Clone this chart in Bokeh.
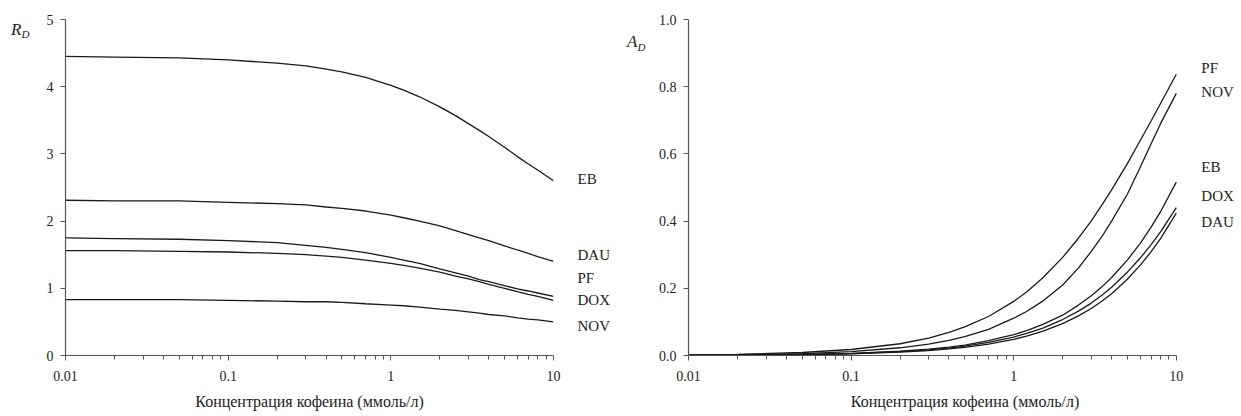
from bokeh.plotting import figure
from bokeh.layouts import row
from bokeh.models import (FixedTicker, CustomJSTickFormatter, LinearAxis, Range1d,
                          ColumnDataSource)
from bokeh.core.properties import value
from bokeh.embed import file_html
from bokeh.resources import INLINE

# caffeine concentration, mmol/l
conc = [0.01, 0.02, 0.05, 0.1, 0.2, 0.3, 0.4, 0.5, 0.7, 1, 1.2, 1.5, 2, 2.5, 3, 3.5, 4, 5, 6, 7, 8, 10]

# R_D for each ligand
rd_eb = [4.45, 4.44, 4.43, 4.40, 4.35, 4.31, 4.26, 4.22, 4.14, 4.02, 3.95, 3.85, 3.70, 3.57, 3.45, 3.35, 3.26, 3.10, 2.96, 2.85, 2.76, 2.60]
rd_dau = [2.31, 2.30, 2.30, 2.28, 2.26, 2.24, 2.21, 2.19, 2.15, 2.09, 2.05, 2.00, 1.93, 1.86, 1.80, 1.75, 1.71, 1.63, 1.57, 1.52, 1.47, 1.40]
rd_pf = [1.75, 1.74, 1.73, 1.71, 1.68, 1.64, 1.61, 1.58, 1.53, 1.46, 1.42, 1.37, 1.29, 1.23, 1.18, 1.13, 1.10, 1.04, 0.99, 0.96, 0.93, 0.88]
rd_dox = [1.56, 1.56, 1.55, 1.54, 1.52, 1.50, 1.48, 1.46, 1.42, 1.37, 1.34, 1.30, 1.24, 1.18, 1.14, 1.10, 1.06, 1.00, 0.95, 0.91, 0.88, 0.82]
rd_nov = [0.83, 0.83, 0.83, 0.82, 0.81, 0.80, 0.80, 0.79, 0.77, 0.75, 0.74, 0.72, 0.69, 0.67, 0.65, 0.63, 0.61, 0.59, 0.56, 0.54, 0.53, 0.50]

# A_D for each ligand
ad_pf = [0.0018, 0.0036, 0.0089, 0.0178, 0.035, 0.052, 0.069, 0.085, 0.116, 0.161, 0.189, 0.230, 0.292, 0.349, 0.401, 0.449, 0.493, 0.571, 0.640, 0.698, 0.750, 0.837]
ad_nov = [0.0012, 0.0023, 0.0057, 0.0115, 0.023, 0.034, 0.045, 0.056, 0.078, 0.111, 0.131, 0.161, 0.21, 0.26, 0.31, 0.355, 0.40, 0.48, 0.56, 0.63, 0.69, 0.78]
ad_eb = [0.0006, 0.0013, 0.0032, 0.0063, 0.0126, 0.019, 0.025, 0.031, 0.044, 0.062, 0.074, 0.092, 0.12, 0.150, 0.178, 0.205, 0.232, 0.284, 0.334, 0.382, 0.428, 0.516]
ad_dox = [0.0006, 0.0011, 0.0028, 0.0056, 0.0113, 0.017, 0.022, 0.028, 0.039, 0.055, 0.066, 0.081, 0.107, 0.132, 0.156, 0.180, 0.203, 0.248, 0.290, 0.330, 0.368, 0.44]
ad_dau = [0.0005, 0.001, 0.0024, 0.0049, 0.0098, 0.0146, 0.0195, 0.024, 0.034, 0.048, 0.058, 0.072, 0.095, 0.118, 0.140, 0.162, 0.184, 0.227, 0.269, 0.309, 0.348, 0.424]

left_names = ["EB", "DAU", "PF", "DOX", "NOV"]
left_series = [rd_eb, rd_dau, rd_pf, rd_dox, rd_nov]
left_label_y = [2.62, 1.49, 1.16, 0.82, 0.44]

right_names = ["PF", "NOV", "EB", "DOX", "DAU"]
right_series = [ad_pf, ad_nov, ad_eb, ad_dox, ad_dau]
right_label_y = [0.857, 0.785, 0.56, 0.475, 0.397]

x_ticks = [0.01, 0.1, 1, 10]
x_minor = [k * d for d in (0.01, 0.1, 1) for k in range(2, 10)]

SERIF = "Liberation Serif"
AXIS_COLOR = "#555555"
TEXT_COLOR = "#222222"
LINE_COLOR = "#1a1a1a"
PX_PER_DECADE = 162.6


def style_axes(p, y_ticks, y_fmt):
    p.outline_line_color = None
    p.grid.visible = False
    p.background_fill_color = "white"
    p.border_fill_color = "white"

    xa = p.xaxis[0]
    xa.bounds = (x_ticks[0], x_ticks[-1])
    xa.ticker = FixedTicker(ticks=x_ticks, minor_ticks=x_minor)
    xa.formatter = CustomJSTickFormatter(code="return String(Number(tick.toPrecision(1)));")
    xa.axis_label = "Концентрация кофеина (ммоль/л)"
    xa.axis_label_text_font = SERIF
    xa.axis_label_text_font_style = "normal"
    xa.axis_label_text_font_size = "16px"
    xa.axis_label_text_color = TEXT_COLOR
    xa.axis_label_standoff = 9
    xa.major_label_standoff = 10
    xa.major_label_text_font = SERIF
    xa.major_label_text_font_size = "14px"
    xa.major_label_text_color = TEXT_COLOR
    xa.axis_line_color = AXIS_COLOR
    xa.axis_line_width = 1.2
    xa.major_tick_line_color = AXIS_COLOR
    xa.minor_tick_line_color = AXIS_COLOR
    xa.major_tick_in = 0
    xa.major_tick_out = 5
    xa.minor_tick_in = 0
    xa.minor_tick_out = 4

    ya = p.yaxis[0]
    ya.ticker = FixedTicker(ticks=y_ticks, minor_ticks=[])
    ya.formatter = y_fmt
    ya.major_label_text_font = SERIF
    ya.major_label_text_font_size = "14px"
    ya.major_label_text_color = TEXT_COLOR
    ya.major_label_standoff = 7
    ya.axis_line_color = AXIS_COLOR
    ya.axis_line_width = 1.2
    ya.major_tick_line_color = AXIS_COLOR
    ya.major_tick_in = 0
    ya.major_tick_out = 5
    ya.minor_tick_line_color = None


def text_axis(positions, texts, standoff, size, italic):
    """A bare axis whose tick labels serve as free-standing text at given y values."""
    ax = LinearAxis(ticker=FixedTicker(ticks=positions, minor_ticks=[]),
                    formatter=CustomJSTickFormatter(args=dict(pos=positions, names=texts),
                                                    code="return names[pos.indexOf(tick)];"))
    ax.axis_line_color = None
    ax.major_tick_line_color = None
    ax.minor_tick_line_color = None
    ax.major_tick_in = 0
    ax.major_tick_out = 0
    ax.minor_tick_in = 0
    ax.minor_tick_out = 0
    ax.major_label_standoff = standoff
    ax.major_label_text_font = SERIF
    ax.major_label_text_font_size = size
    ax.major_label_text_color = TEXT_COLOR
    ax.major_label_text_font_style = "italic" if italic else "normal"
    return ax


def add_symbol(p, letter, y_letter, y_sub, sub_standoff, letter_standoff):
    # subscript D sits just outside the tick labels, the italic letter further out
    p.add_layout(text_axis([y_sub], ["D"], sub_standoff, "11px", True), "left")
    p.add_layout(text_axis([y_letter], [letter], letter_standoff, "17px", True), "left")


fmt_int = CustomJSTickFormatter(code="return tick.toFixed(0);")
fmt_dec = CustomJSTickFormatter(code="return tick.toFixed(1);")

# ---- left panel: R_D ----
p_left = figure(width=620, height=416, x_axis_type="log",
                x_range=Range1d(x_ticks[0], x_ticks[-1]), y_range=Range1d(0, 5),
                output_backend="svg", toolbar_location=None,
                min_border_left=65, min_border_right=67,
                min_border_top=19, min_border_bottom=61)
style_axes(p_left, [0, 1, 2, 3, 4, 5], fmt_int)
for ys in left_series:
    p_left.line(conc, ys, line_color=LINE_COLOR, line_width=1.3)
p_left.add_layout(text_axis(left_label_y, left_names, 24, "15px", False), "right")
add_symbol(p_left, "R", 4.85, 4.79, 14, -3)

# ---- right panel: A_D ----
right_w, right_border = 621, 68
frame_w = right_w - right_border
p_right = figure(width=right_w, height=416, x_axis_type="log",
                 x_range=Range1d(x_ticks[0], x_ticks[0] * 10 ** (frame_w / PX_PER_DECADE)),
                 y_range=Range1d(0, 1.0),
                 output_backend="svg", toolbar_location=None,
                 min_border_left=right_border, min_border_right=0,
                 min_border_top=19, min_border_bottom=61)
style_axes(p_right, [0, 0.2, 0.4, 0.6, 0.8, 1.0], fmt_dec)
for ys in right_series:
    p_right.line(conc, ys, line_color=LINE_COLOR, line_width=1.3)
label_x = conc[-1] * 10 ** (25 / PX_PER_DECADE)
src = ColumnDataSource(dict(x=[label_x] * len(right_names), y=right_label_y, t=right_names))
p_right.text(x="x", y="y", text="t", source=src, text_font=value(SERIF),
             text_font_size="15px", text_color=TEXT_COLOR,
             text_align="left", text_baseline="middle")
add_symbol(p_right, "A", 0.934, 0.919, 10, -3)

layout = row(p_left, p_right)
open("out.html", "w").write(file_html(layout, INLINE))
